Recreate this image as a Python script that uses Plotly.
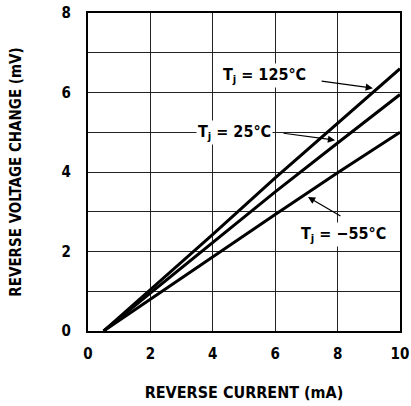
import plotly.graph_objects as go

current = [0.5, 2, 4, 6, 8, 10]
v_125 = [0, 1.04, 2.43, 3.85, 5.22, 6.6]
v_25 = [0, 0.95, 2.22, 3.5, 4.73, 5.95]
v_m55 = [0, 0.8, 1.87, 2.93, 3.98, 5.0]
x_ticks = [0, 2, 4, 6, 8, 10]
y_ticks = [0, 2, 4, 6, 8]

FONT = "DejaVu Sans Condensed, Liberation Sans Narrow, sans-serif"

fig = go.Figure()
for name, vals in [("125", v_125), ("25", v_25), ("-55", v_m55)]:
    fig.add_trace(go.Scatter(x=current, y=vals, mode="lines",
                             line=dict(color="black", width=3), name=name,
                             showlegend=False, hoverinfo="skip"))

labels = [
    ("<b>T<sub>j</sub> = 125°C</b>", 5.65, 6.42, 7.44, 6.29, 9.13, 6.11),
    ("<b>T<sub>j</sub> = 25°C</b>", 4.71, 5.0, 6.22, 4.98, 7.92, 4.8),
    ("<b>T<sub>j</sub> = −55°C</b>", 8.2, 2.42, 8.14, 2.87, 7.05, 3.37),
]
for text, tx, ty, ax, ay, hx, hy in labels:
    fig.add_annotation(x=tx, y=ty, text=text, showarrow=False,
                       font=dict(family=FONT, size=16, color="black"),
                       bgcolor="white", borderpad=1)
    fig.add_annotation(x=hx, y=hy, ax=ax, ay=ay, xref="x", yref="y",
                       axref="x", ayref="y", text="", showarrow=True,
                       arrowhead=2, arrowsize=1.2, arrowwidth=1.2,
                       arrowcolor="black")

axis_common = dict(showline=True, linecolor="black", linewidth=2, mirror=True,
                   showgrid=True, gridcolor="#222", gridwidth=1.2,
                   zeroline=False, ticks="", automargin=False,
                   ticklabeloverflow="allow",
                   tickfont=dict(family=FONT, size=15, color="black"))

fig.update_xaxes(range=[0, 10], tickvals=x_ticks,
                 ticktext=[f"<b>{t}</b>" for t in x_ticks],
                 ticklabelstandoff=8,
                 title=dict(text="<b>REVERSE CURRENT (mA)</b>",
                            font=dict(family=FONT, size=16, color="black"),
                            standoff=25),
                 **axis_common)
fig.update_yaxes(range=[0, 8], tickvals=list(range(9)),
                 ticktext=[f"<b>{t}</b>" if t % 2 == 0 else "" for t in range(9)],
                 ticklabelstandoff=12,
                 title=dict(text="<b>REVERSE VOLTAGE CHANGE (mV)</b>",
                            font=dict(family=FONT, size=15, color="black"),
                            standoff=36),
                 **axis_common)

fig.update_layout(width=411, height=406,
                  margin=dict(l=88, r=11, t=13, b=75),
                  paper_bgcolor="white", plot_bgcolor="white")

fig.write_html("out.html", config={"displayModeBar": False},
               post_script="document.body.style.margin='0';document.body.style.overflow='hidden';")
